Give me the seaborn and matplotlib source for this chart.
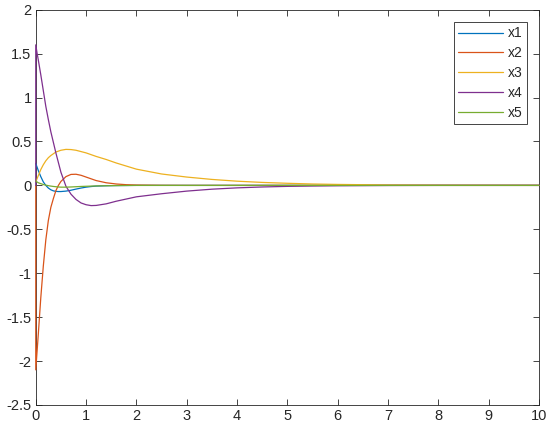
import pandas as pd
import matplotlib
matplotlib.use("Agg")
import matplotlib.pyplot as plt
import seaborn as sns

# time samples (the first instant is repeated: states x2 and x4 jump at t=0)
t = [0, 0, 0.025, 0.05, 0.1, 0.15, 0.2, 0.25, 0.3, 0.35, 0.4, 0.45, 0.5, 0.6,
     0.7, 0.8, 0.9, 1.0, 1.1, 1.2, 1.4, 1.6, 1.8, 2.0, 2.5, 3.0, 3.5, 4.0,
     4.5, 5.0, 5.5, 6.0, 7.0, 8.0, 9.0, 10.0]

x1 = [0.25, 0.25, 0.21, 0.17, 0.10, 0.04, 0.0, -0.03, -0.05, -0.062, -0.068, -0.07,
      -0.07, -0.065, -0.055, -0.042, -0.03, -0.02, -0.013, -0.008, -0.004, -0.002,
      -0.001, 0, 0, 0, 0, 0, 0, 0, 0, 0, 0, 0, 0, 0]
x2 = [0, -2.1, -1.9, -1.7, -1.28, -0.92, -0.62, -0.4, -0.25, -0.15, -0.06, 0.0,
      0.045, 0.1, 0.125, 0.127, 0.115, 0.095, 0.075, 0.055, 0.03, 0.016, 0.008,
      0.004, 0.001, 0, 0, 0, 0, 0, 0, 0, 0, 0, 0, 0]
x3 = [0.04, 0.04, 0.075, 0.11, 0.18, 0.235, 0.28, 0.315, 0.34, 0.36, 0.38, 0.39,
      0.40, 0.41, 0.408, 0.40, 0.385, 0.37, 0.35, 0.33, 0.295, 0.255, 0.22,
      0.185, 0.13, 0.095, 0.068, 0.048, 0.034, 0.024, 0.016, 0.011, 0.005,
      0.002, 0.001, 0]
x4 = [0, 1.6, 1.51, 1.43, 1.26, 1.08, 0.9, 0.75, 0.61, 0.49, 0.37, 0.26, 0.15,
      -0.01, -0.1, -0.16, -0.2, -0.22, -0.23, -0.228, -0.21, -0.18, -0.155,
      -0.13, -0.095, -0.065, -0.043, -0.028, -0.018, -0.011, -0.007, -0.004,
      -0.001, 0, 0, 0]
x5 = [0.05, 0.05, 0.04, 0.03, 0.02, 0.01, 0.003, -0.003, -0.008, -0.012, -0.015,
      -0.018, -0.02, -0.02, -0.018, -0.015, -0.012, -0.01, -0.008, -0.006,
      -0.004, -0.002, -0.001, 0, 0, 0, 0, 0, 0, 0, 0, 0, 0, 0, 0, 0]

series_names = ["x1", "x2", "x3", "x4", "x5"]
colors = ["#0072BD", "#D95319", "#EDB120", "#7E2F8E", "#77AC30"]

x_ticks = [0, 1, 2, 3, 4, 5, 6, 7, 8, 9, 10]
y_ticks = [-2.5, -2, -1.5, -1, -0.5, 0, 0.5, 1, 1.5, 2]
y_tick_labels = ["-2.5", "-2", "-1.5", "-1", "-0.5", "0", "0.5", "1", "1.5", "2"]


def build_frame():
    """Long-form table for seaborn."""
    frames = []
    for name, vals in zip(series_names, [x1, x2, x3, x4, x5]):
        frames.append(pd.DataFrame({"t": t, "value": vals, "series": name}))
    return pd.concat(frames, ignore_index=True)


def main():
    sns.set_style("ticks")
    plt.rcParams["font.family"] = ["Liberation Sans", "DejaVu Sans"]
    plt.rcParams["axes.unicode_minus"] = False

    df = build_frame()

    fig = plt.figure(figsize=(5.5, 4.32), dpi=100)
    ax = fig.add_axes([0.065, 0.0625, 0.915, 0.915])

    # lines over the box, like the original (vertical jumps sit on the y axis)
    sns.lineplot(data=df, x="t", y="value", hue="series", palette=colors,
                 estimator=None, sort=False, linewidth=0.9, ax=ax,
                 zorder=3, clip_on=False)

    ax.set_xlim(0, 10)
    ax.set_ylim(-2.5, 2)
    ax.set_xticks(x_ticks)
    ax.set_xticklabels([str(v) for v in x_ticks])
    ax.set_yticks(y_ticks)
    ax.set_yticklabels(y_tick_labels)
    ax.set_xlabel("")
    ax.set_ylabel("")

    for side in ["top", "right", "bottom", "left"]:
        ax.spines[side].set_visible(True)
        ax.spines[side].set_color("#262626")
        ax.spines[side].set_linewidth(0.6)
    ax.tick_params(direction="in", length=4, width=0.6, color="#262626",
                   labelsize=10.5, labelcolor="#262626",
                   top=True, right=True, pad=3)

    leg = ax.legend(loc="upper right", fancybox=False, framealpha=1,
                    edgecolor="#262626", fontsize=10, handlelength=3.2,
                    borderaxespad=0.9, borderpad=0.3, labelspacing=0.42,
                    handletextpad=0.35)
    leg.get_frame().set_linewidth(0.6)
    leg.set_zorder(5)

    fig.savefig("out.png", dpi=100)


if __name__ == "__main__":
    main()
